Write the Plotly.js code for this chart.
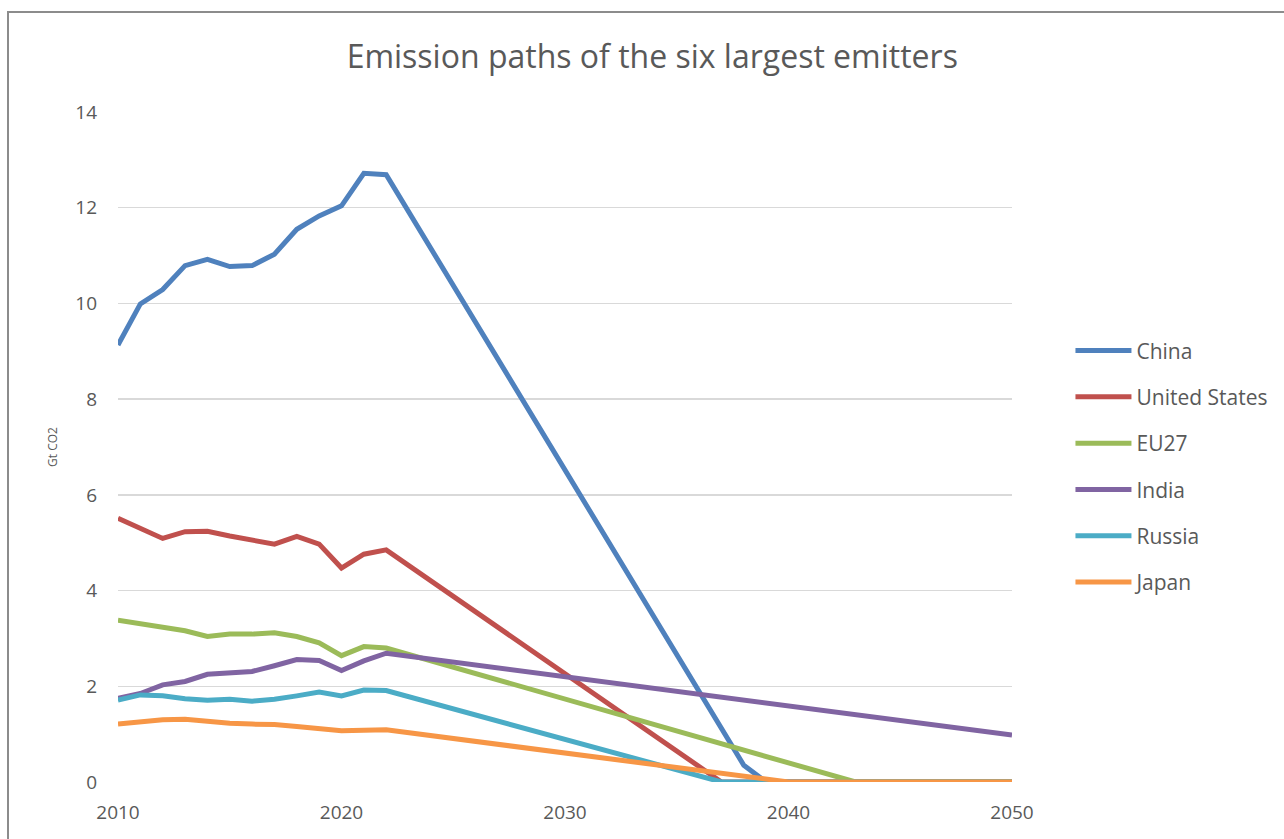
<!DOCTYPE html>
<html>
<head>
<meta charset="utf-8">
<script src="https://cdn.plot.ly/plotly-3.0.1.min.js"></script>
<style>
html,body{margin:0;padding:0;background:#fff;}
#frame{position:absolute;left:7px;top:11px;width:1290px;height:840px;border-top:2px solid #8c8c8c;border-left:2px solid #8c8c8c;pointer-events:none;z-index:5;}
#chart{position:absolute;left:0;top:0;width:1284px;height:839px;}
</style>
</head>
<body>
<div id="chart"></div>
<div id="frame"></div>
<script>
// Data (Gt CO2)
const chinaYears = [2010,2011,2012,2013,2014,2015,2016,2017,2018,2019,2020,2021,2022,2038,2039,2050];
const chinaVals  = [9.13,9.99,10.29,10.79,10.92,10.77,10.79,11.03,11.55,11.83,12.04,12.72,12.69,0.35,0,0];

const usYears = [2010,2011,2012,2013,2014,2015,2016,2017,2018,2019,2020,2021,2022,2037,2050];
const usVals  = [5.51,5.30,5.09,5.23,5.24,5.14,5.05,4.97,5.13,4.97,4.47,4.76,4.85,0,0];

const euYears = [2010,2011,2012,2013,2014,2015,2016,2017,2018,2019,2020,2021,2022,2043,2050];
const euVals  = [3.38,3.30,3.24,3.16,3.04,3.09,3.09,3.12,3.04,2.91,2.64,2.83,2.80,0,0];

const indiaYears = [2010,2011,2012,2013,2014,2015,2016,2017,2018,2019,2020,2021,2022,2050];
const indiaVals  = [1.75,1.85,2.03,2.10,2.25,2.27,2.31,2.43,2.56,2.54,2.33,2.53,2.69,0.98];

const russiaYears = [2010,2011,2012,2013,2014,2015,2016,2017,2018,2019,2020,2021,2022,2037,2050];
const russiaVals  = [1.71,1.82,1.80,1.74,1.71,1.73,1.69,1.73,1.80,1.88,1.80,1.92,1.91,0,0];

const japanYears = [2010,2011,2012,2013,2014,2015,2016,2017,2018,2019,2020,2021,2022,2040,2050];
const japanVals  = [1.21,1.26,1.30,1.31,1.26,1.23,1.21,1.20,1.16,1.11,1.07,1.08,1.09,0,0];

const seriesNames = ["China","United States","EU27","India","Russia","Japan"];
const seriesColors = ["#4F81BD","#C0504D","#9BBB59","#8064A2","#4BACC6","#F79646"];
const xTicks = [2010,2020,2030,2040,2050];
const yTicks = [0,2,4,6,8,10,12,14];

const xs = [chinaYears,usYears,euYears,indiaYears,russiaYears,japanYears];
const ys = [chinaVals,usVals,euVals,indiaVals,russiaVals,japanVals];

const font = "Open Sans, DejaVu Sans, sans-serif";
const traces = seriesNames.map((n,i)=>({
  x: xs[i], y: ys[i], name: n, type: "scatter", mode: "lines",
  legendgroup: "g"+i,
  line: {color: seriesColors[i], width: 5, shape: "linear"}
}));

const layout = {
  width: 1284, height: 839,
  paper_bgcolor: "#fff", plot_bgcolor: "#fff",
  margin: {l: 118, r: 271, t: 112, b: 57},
  title: {text: "Emission paths of the six largest emitters", x: 0.508, xanchor: "center", y: 0.932, yanchor: "middle",
          font: {family: font, size: 32, color: "#595959"}},
  font: {family: font, color: "#595959"},
  xaxis: {range: [2010, 2050], tickvals: xTicks, ticktext: xTicks.map(String), showgrid: false, zeroline: false,
          showline: false, ticks: "", tickfont: {size: 19, color: "#595959"}, ticklabelstandoff: 17, fixedrange: true},
  yaxis: {range: [0, 14], tickvals: yTicks, ticktext: yTicks.map(String), showgrid: true, gridcolor: "#D9D9D9", gridwidth: 1.3,
          zeroline: false, showline: false, ticks: "", tickfont: {size: 19, color: "#595959"}, ticklabelstandoff: 20,
          title: {text: "Gt CO2", font: {size: 12, color: "#595959"}, standoff: 15}},
  showlegend: true,
  legend: {x: 1.0642, xanchor: "left", y: 0.674, yanchor: "top", tracegroupgap: 16, itemwidth: 56,
           font: {size: 21, color: "#595959"}, bgcolor: "rgba(0,0,0,0)"}
};

Plotly.newPlot("chart", traces, layout, {displayModeBar: false, staticPlot: true});
</script>
</body>
</html>
